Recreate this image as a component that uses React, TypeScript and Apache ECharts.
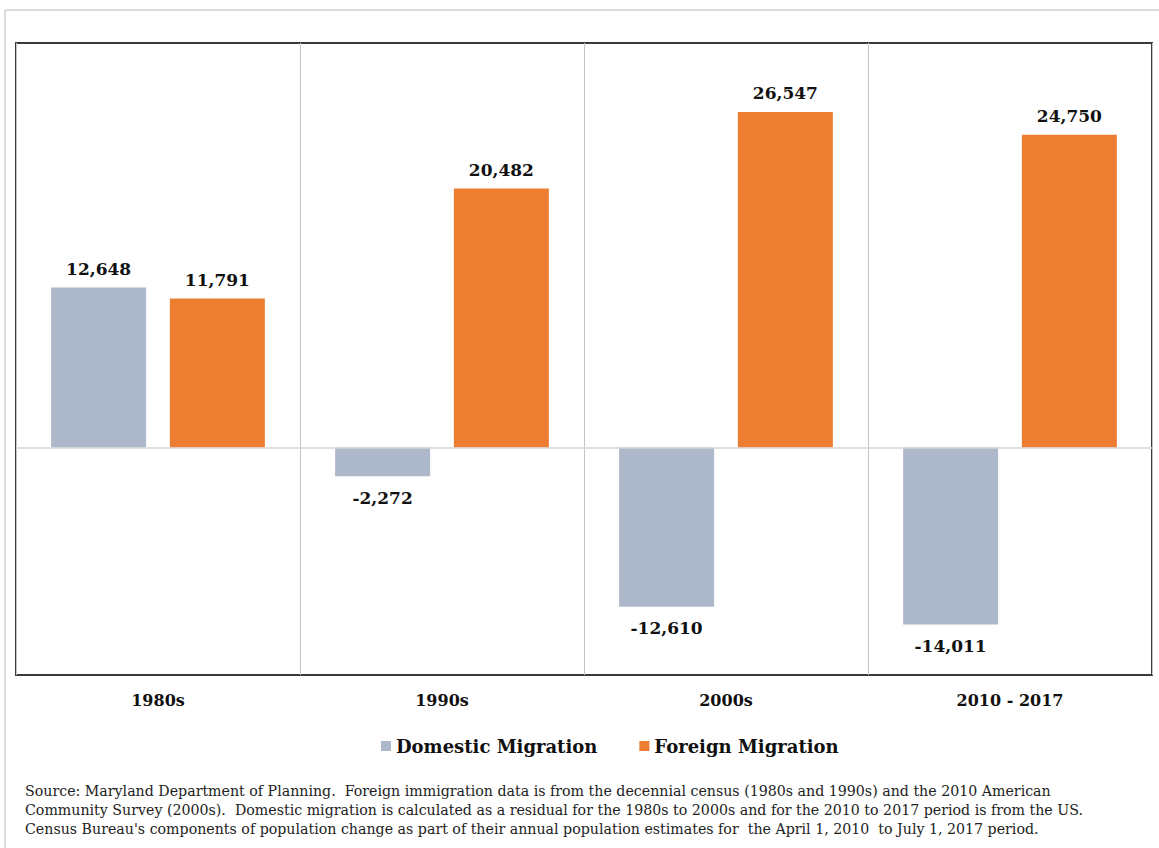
import React, { useEffect, useRef } from "react";
import * as echarts from "echarts";

const categories = ["1980s", "1990s", "2000s", "2010 - 2017"];
const domestic = [12648, -2272, -12610, -14011];
const foreign = [11791, 20482, 26547, 24750];
const seriesNames = ["Domestic Migration", "Foreign Migration"];
const footnoteLines = [
  "Source: Maryland Department of Planning.  Foreign immigration data is from the decennial census (1980s and 1990s) and the 2010 American",
  "Community Survey (2000s).  Domestic migration is calculated as a residual for the 1980s to 2000s and for the 2010 to 2017 period is from the US.",
  "Census Bureau's components of population change as part of their annual population estimates for  the April 1, 2010  to July 1, 2017 period.",
];

const SERIF = "'DejaVu Serif', 'Liberation Serif', serif";
const fmt = (v: number) => (v < 0 ? "-" : "") + Math.abs(v).toLocaleString("en-US");

const toItems = (arr: number[]) =>
  arr.map((v) => ({
    value: v,
    label: { position: v >= 0 ? "top" : "bottom", distance: v >= 0 ? 10 : 13 },
  }));

export default function App() {
  const ref = useRef<HTMLDivElement>(null);
  useEffect(() => {
    if (!ref.current) return;
    const chart = echarts.init(ref.current, undefined, { renderer: "svg" });
    const labelStyle = {
      show: true,
      formatter: (p: any) => fmt(p.value),
      fontFamily: SERIF,
      fontWeight: "bold" as const,
      fontSize: 17,
      color: "#111",
    };
    chart.setOption({
      animation: false,
      backgroundColor: "#ffffff",
      grid: {
        left: 16,
        top: 43,
        width: 1136,
        height: 632,
        show: true,
        borderColor: "#3a3a3a",
        borderWidth: 2,
        backgroundColor: "transparent",
      },
      legend: {
        left: 376,
        top: 732,
        itemWidth: 10,
        itemHeight: 10,
        itemGap: 42,
        icon: "rect",
        data: seriesNames,
        textStyle: {
          fontFamily: SERIF,
          fontWeight: "bold",
          fontSize: 18,
          color: "#111",
        },
      },
      xAxis: {
        type: "category",
        data: categories,
        axisLine: { show: false },
        axisTick: { show: false },
        axisLabel: {
          margin: 17,
          fontFamily: SERIF,
          fontWeight: "bold",
          fontSize: 16,
          color: "#111",
        },
        splitLine: { show: true, interval: 0, lineStyle: { color: "#c4c4c4", width: 1 } },
      },
      yAxis: {
        type: "value",
        min: -18000,
        max: 32000,
        show: false,
        splitLine: { show: false },
      },
      series: [
        {
          name: seriesNames[0],
          type: "bar",
          barWidth: 95,
          barGap: "25%",
          itemStyle: { color: "#ADB9CA" },
          label: labelStyle,
          data: toItems(domestic),
          markLine: {
            silent: true,
            symbol: "none",
            label: { show: false },
            lineStyle: { color: "#d6d6d6", type: "solid", width: 1.5 },
            data: [{ yAxis: 0 }],
          },
        },
        {
          name: seriesNames[1],
          type: "bar",
          barWidth: 95,
          barGap: "25%",
          itemStyle: { color: "#ED7D31" },
          label: labelStyle,
          data: toItems(foreign),
        },
      ],
      graphic: [
        {
          type: "line",
          shape: { x1: 5, y1: 10, x2: 1159, y2: 10 },
          style: { stroke: "#cfcfcf", lineWidth: 1.5 },
        },
        {
          type: "line",
          shape: { x1: 5, y1: 10, x2: 5, y2: 848 },
          style: { stroke: "#cfcfcf", lineWidth: 1.5 },
        },
        ...footnoteLines.map((t, i) => ({
          type: "text",
          left: 25,
          top: 784 + i * 19,
          style: {
            text: t,
            fontFamily: SERIF,
            fontSize: 14.2,
            fill: "#222",
          },
        })),
      ],
    });
    return () => chart.dispose();
  }, []);
  return (
    <div
      ref={ref}
      style={{ position: "fixed", left: 0, top: 0, width: 1159, height: 848 }}
    />
  );
}
